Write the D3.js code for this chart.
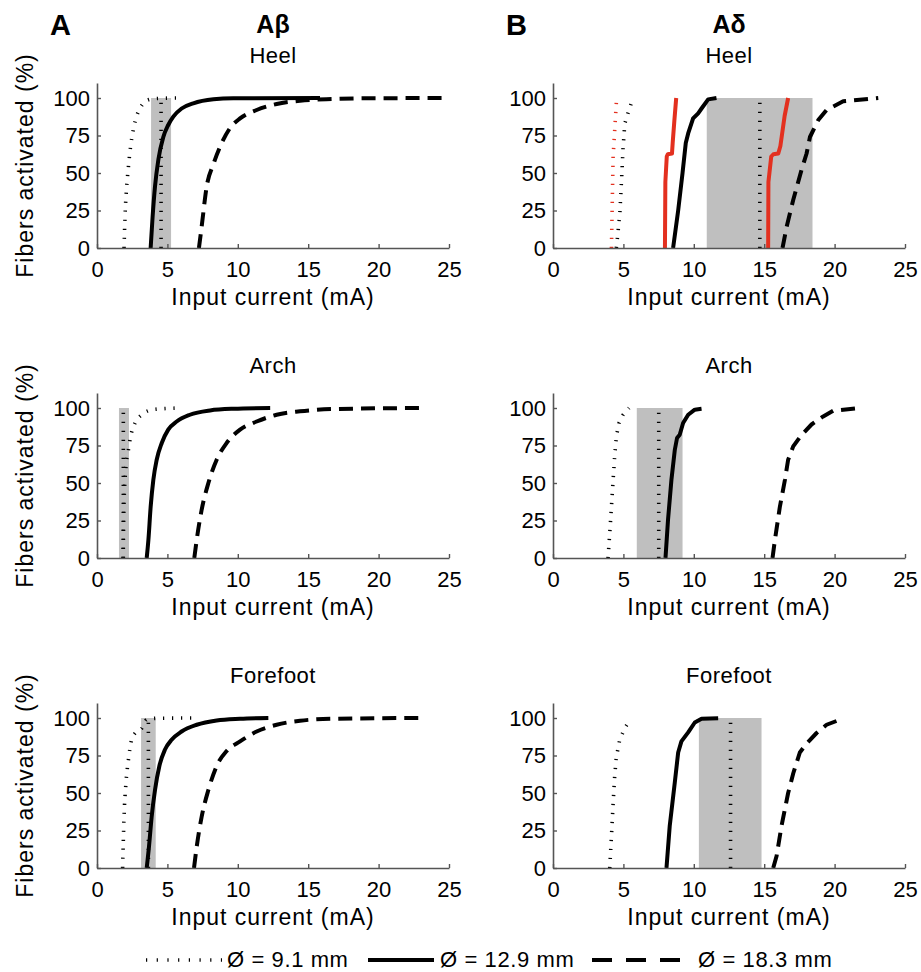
<!DOCTYPE html>
<html><head><meta charset="utf-8">
<script src="https://cdn.jsdelivr.net/npm/d3@7"></script>
<style>
body{margin:0;background:#fff}
text{font-family:"Liberation Sans",Arial,Helvetica,sans-serif;fill:#000}
</style>
</head><body>
<svg id="chart" width="921" height="972"></svg>
<script>
// ---------------- data ----------------
const xTicks = [0, 5, 10, 15, 20, 25];
const yTicks = [0, 25, 50, 75, 100];
const fiberTypes = ["Aβ", "Aδ"];
const panelLetters = ["A", "B"];
const sites = ["Heel", "Arch", "Forefoot"];
const diameters = ["Ø = 9.1 mm", "Ø = 12.9 mm", "Ø = 18.3 mm"];

// Aβ – Heel  ([current mA, % fibers activated])
const abHeel91  = [[1.92,0],[1.99,21],[2.11,41],[2.23,54],[2.39,68],[2.58,79],[2.82,88],[3.05,93],[3.41,97.5],[3.88,99.3],[4.6,99.8],[6.0,100]];
const abHeel129 = [[3.81,0],[3.95,21],[4.12,41],[4.36,59],[4.71,74],[5.06,82],[5.42,87.6],[6.01,93],[6.84,96.4],[8.27,99.1],[9.68,99.8],[15.84,100]];
const abHeel183 = [[7.24,0],[7.43,14],[7.79,41],[8.27,56],[8.86,70],[9.45,80],[10.16,86.4],[11.34,92],[12.76,96],[14.42,98.2],[16.78,99.3],[19.15,99.8],[25,100]];
const abHeelRange = [3.84, 5.26];
const abHeelMean = 4.55;

// Aβ – Arch
const abArch91  = [[1.85,0],[1.9,30],[2.06,61],[2.23,72],[2.39,81],[2.7,90],[3.17,95.5],[4.0,99],[5.9,100]];
const abArch129 = [[3.53,0],[3.65,12],[3.81,34],[4.0,52],[4.24,65.5],[4.6,76.7],[5.06,85.6],[5.66,91],[6.6,95.5],[8.03,98.4],[9.68,99.5],[12.3,100]];
const abArch183 = [[6.91,0],[7.08,12],[7.43,32],[7.91,50],[8.5,65.5],[9.21,76.7],[10.16,85.6],[11.34,91],[12.76,95.5],[14.42,97.8],[16.78,99.3],[23.3,100]];
const abArchRange = [1.56, 2.27];
const abArchMean = 1.87;

// Aβ – Forefoot
const abFore91  = [[1.82,0],[1.92,34],[2.06,57],[2.23,72],[2.46,85.5],[2.82,91],[3.17,93],[3.53,98.9],[4.24,99.8],[7.08,100]];
const abFore129 = [[3.53,0],[3.69,14],[3.88,34],[4.12,52],[4.43,68],[4.83,79],[5.3,85.5],[6.01,91],[7.08,95.5],[8.5,98.4],[10.16,99.5],[12.17,100]];
const abFore183 = [[6.89,0],[7.08,14],[7.43,34],[7.91,52],[8.5,68],[9.21,78],[10.16,84.4],[11.34,91],[12.76,95.5],[14.42,98.2],[16.78,99.5],[23.06,100]];
const abForeRange = [3.13, 4.17];
const abForeMean = 3.65;

// Aδ – Heel
const adHeel91    = [[4.5,0],[4.74,22],[4.86,44],[4.98,67],[5.1,83],[5.33,90],[5.57,96.7],[5.81,100]];
const adHeel129   = [[8.53,0],[8.89,25],[9.2,50],[9.43,70],[9.6,76.4],[9.95,86.4],[10.31,89.8],[10.55,93],[11.02,99.1],[11.61,100]];
const adHeel183   = [[16.3,0],[16.59,14],[17.06,32],[17.65,52],[18.01,63],[18.25,74],[18.84,85.3],[19.43,92],[20.61,97.8],[23.1,100]];
const adHeel91Red = [[4.15,0],[4.27,61],[4.5,97]];
const adHeelRedA  = [[7.95,0],[7.98,44],[8.08,61],[8.15,62.5],[8.45,63],[8.5,70],[8.62,85],[8.75,100]];
const adHeelRedB  = [[15.28,0],[15.3,44],[15.5,61],[15.65,62.5],[16.0,63],[16.15,68],[16.45,88],[16.7,100]];
const adHeelRange = [10.92, 18.43];
const adHeelMean = 14.69;

// Aδ – Arch
const adArch91  = [[3.91,0],[4.03,16.6],[4.15,34],[4.27,52],[4.38,68],[4.5,81],[4.69,90],[4.98,95.5],[5.4,100]];
const adArch129 = [[7.99,0],[8.17,25.6],[8.41,52],[8.65,72],[8.81,80],[9.0,82.2],[9.24,90],[9.6,95.5],[10.07,98.9],[10.55,99.5]];
const adArch183 = [[15.59,0],[15.76,12],[16.11,34],[16.47,52],[16.7,65.5],[17.06,74.4],[17.65,82],[18.36,89],[19.19,94.4],[19.9,98.2],[21.56,99.8]];
const adArchRange = [5.95, 9.2];
const adArchMean = 7.51;

// Aδ – Forefoot
const adFore91  = [[4.03,0],[4.15,21],[4.27,43],[4.38,61],[4.5,74],[4.74,85.5],[5.1,93.3],[5.5,99.3]];
const adFore129 = [[8.06,0],[8.29,28],[8.65,57],[8.89,77],[9.12,84.4],[9.6,90.4],[10.07,97],[10.55,99.5],[11.73,99.8]];
const adFore183 = [[15.64,0],[15.88,8],[16.23,28],[16.7,50],[17.06,63],[17.53,77],[18.01,83],[18.72,90],[19.43,95.5],[20.5,99.3]];
const adForeRange = [10.36, 14.81];
const adForeMean = 12.61;

// ---------------- panel table ----------------
const panels = [
  {col:0,row:0,range:abHeelRange,mean:abHeelMean,curves:[{d:abHeel91,s:"dot"},{d:abHeel129,s:"solid"},{d:abHeel183,s:"dash"}]},
  {col:0,row:1,range:abArchRange,mean:abArchMean,curves:[{d:abArch91,s:"dot"},{d:abArch129,s:"solid"},{d:abArch183,s:"dash"}]},
  {col:0,row:2,range:abForeRange,mean:abForeMean,curves:[{d:abFore91,s:"dot"},{d:abFore129,s:"solid"},{d:abFore183,s:"dash"}]},
  {col:1,row:0,range:adHeelRange,mean:adHeelMean,curves:[{d:adHeel91Red,s:"dot",red:true},{d:adHeel91,s:"dot"},{d:adHeelRedA,s:"solid",red:true},{d:adHeel129,s:"solid"},{d:adHeelRedB,s:"solid",red:true},{d:adHeel183,s:"dash"}]},
  {col:1,row:1,range:adArchRange,mean:adArchMean,curves:[{d:adArch91,s:"dot"},{d:adArch129,s:"solid"},{d:adArch183,s:"dash"}]},
  {col:1,row:2,range:adForeRange,mean:adForeMean,curves:[{d:adFore91,s:"dot"},{d:adFore129,s:"solid"},{d:adFore183,s:"dash"}]}
];

// ---------------- layout ----------------
const colLeft = [97, 553];
const rowTop = [83, 393, 703];
const plotW = 352, plotH = 165;
const RED = "#e3301f", GREY = "#bfbfbf", AXIS = "#555";
const styles = {
  dot:   {w:3.6, dash:"1.2 7.8"},
  solid: {w:4,   dash:null},
  dash:  {w:4,   dash:"14 8"}
};

const svg = d3.select("#chart");
const x = d3.scaleLinear().domain([0, 25]).range([0, plotW]);
const y = d3.scaleLinear().domain([0, 110]).range([plotH, 0]);

panels.forEach(p => {
  const g = svg.append("g").attr("transform", `translate(${colLeft[p.col]},${rowTop[p.row]})`);
  g.append("rect")
    .attr("x", x(p.range[0])).attr("width", x(p.range[1]) - x(p.range[0]))
    .attr("y", y(100)).attr("height", y(0) - y(100))
    .attr("fill", GREY);
  g.append("line")
    .attr("x1", x(p.mean)).attr("x2", x(p.mean))
    .attr("y1", y(0)).attr("y2", y(100))
    .attr("stroke", "#000").attr("stroke-width", styles.dot.w)
    .attr("stroke-dasharray", styles.dot.dash);
  const line = d3.line().x(d => x(d[0])).y(d => y(d[1]))
    .curve(p.col === 0 ? d3.curveMonotoneX : d3.curveLinear);
  p.curves.forEach(c => {
    const st = styles[c.s];
    g.append("path").attr("d", line(c.d))
      .attr("fill", "none")
      .attr("stroke", c.red ? RED : "#000")
      .attr("stroke-width", st.w)
      .attr("stroke-dasharray", st.dash)
      .attr("stroke-linejoin", "round");
  });
  const xa = g.append("g").attr("transform", `translate(0,${plotH})`)
    .call(d3.axisBottom(x).tickValues(xTicks).tickSizeInner(-4).tickSizeOuter(0).tickPadding(13));
  const ya = g.append("g")
    .call(d3.axisLeft(y).tickValues(yTicks).tickSizeInner(-4).tickSizeOuter(0).tickPadding(7));
  [xa, ya].forEach(a => {
    a.select(".domain").attr("stroke", AXIS).attr("stroke-width", 1.6);
    a.selectAll(".tick line").attr("stroke", AXIS).attr("stroke-width", 1.4);
    a.selectAll(".tick text").attr("font-size", 22).attr("fill", "#000")
      .style("font-family", '"Liberation Sans",Arial,sans-serif');
  });
  g.append("text").attr("x", plotW / 2).attr("y", plotH + 57)
    .attr("text-anchor", "middle").attr("font-size", 23).attr("letter-spacing", 1)
    .text("Input current (mA)");
  g.append("text").attr("x", plotW / 2).attr("y", y(100) - 35)
    .attr("text-anchor", "middle").attr("font-size", 22).attr("letter-spacing", 0.5)
    .text(sites[p.row]);
  if (p.col === 0) {
    g.append("text").attr("transform", `translate(${33 - colLeft[0]},${plotH / 2}) rotate(-90)`)
      .attr("text-anchor", "middle").attr("font-size", 23).attr("letter-spacing", 1)
      .text("Fibers activated (%)");
  }
});

[0, 1].forEach(c => {
  svg.append("text").attr("x", colLeft[c] + plotW / 2).attr("y", 33)
    .attr("text-anchor", "middle").attr("font-size", 25).attr("font-weight", "bold")
    .text(fiberTypes[c]);
  svg.append("text").attr("x", colLeft[c] - 47).attr("y", 35)
    .attr("font-size", 29).attr("font-weight", "bold")
    .text(panelLetters[c]);
});

// legend
const leg = svg.append("g");
const legItems = [
  {s:"dot",   x1:146, x2:222, tx:227},
  {s:"solid", x1:368, x2:434, tx:440},
  {s:"dash",  x1:592, x2:694, tx:698}
];
legItems.forEach((it, i) => {
  const st = styles[it.s];
  leg.append("line").attr("x1", it.x1).attr("x2", it.x2).attr("y1", 960).attr("y2", 960)
    .attr("stroke", "#000").attr("stroke-width", st.w)
    .attr("stroke-dasharray", it.s === "dash" ? "20 14" : (it.s === "dot" ? "1.2 9.5" : null));
  leg.append("text").attr("x", it.tx).attr("y", 967)
    .attr("font-size", 22).attr("letter-spacing", 0.6)
    .text(diameters[i]);
});
</script>
</body></html>
